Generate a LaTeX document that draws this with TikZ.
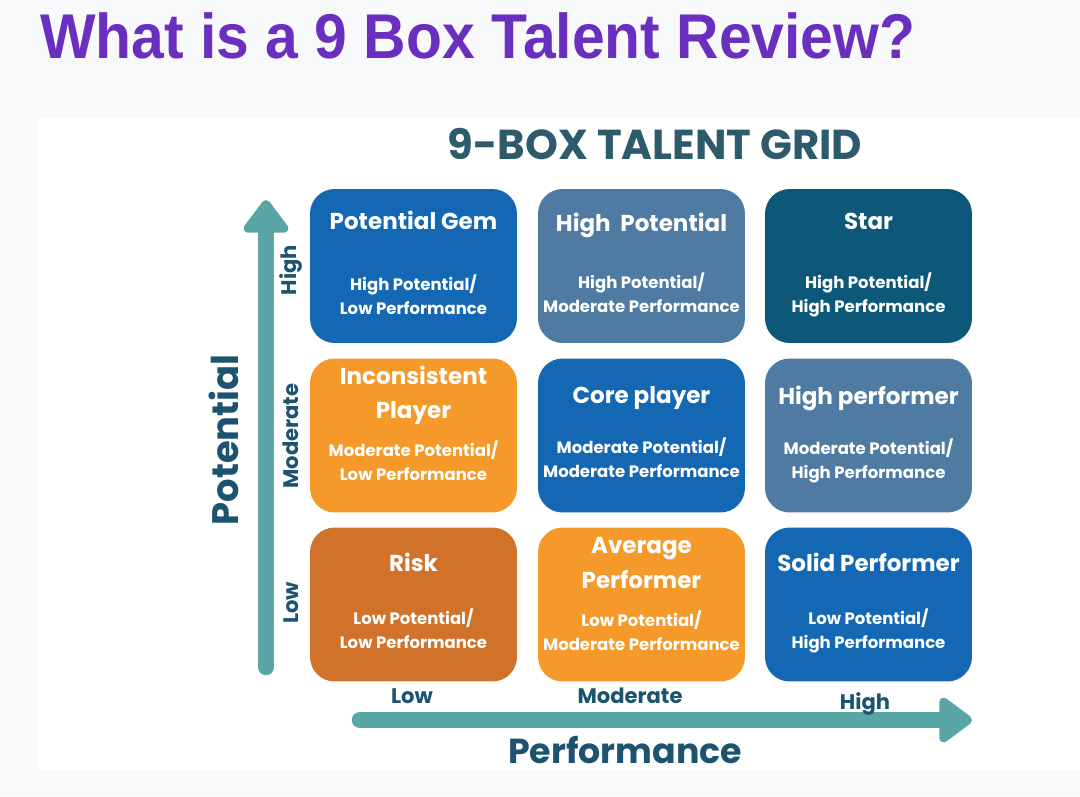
\documentclass[tikz,border=0pt]{standalone}
\usepackage{fontspec}
\setmainfont{Liberation Sans}
\newfontfamily\headfont[FakeStretch=0.93]{Liberation Sans}
\newfontfamily\popfont{Poppins}
\usetikzlibrary{arrows.meta,positioning,calc}
\definecolor{slidebg}{HTML}{F8F9FB}
\definecolor{titlepurple}{HTML}{6A2FBF}
\definecolor{gridink}{HTML}{2D5B6B}
\definecolor{axisteal}{HTML}{5AA5A6}
\definecolor{axisink}{HTML}{1C5470}
\definecolor{gemblue}{HTML}{1467B3}
\definecolor{slate}{HTML}{4F7AA2}
\definecolor{deepteal}{HTML}{0D5878}
\definecolor{amber}{HTML}{F59A2A}
\definecolor{rust}{HTML}{D1722B}
\newcommand{\boxttl}{\fontsize{13.1}{19}\selectfont}
\tikzset{
  talentbox/.style={rounded corners=14pt, minimum width=4.14cm, minimum height=3.08cm,
                    inner sep=2pt, align=center, text=white, text depth=4pt,
                    font=\popfont\bfseries\fontsize{9.4}{13.6}\selectfont},
  axisarr/.style={-{Triangle[width=1.02cm,length=0.72cm,round]}, line width=0.33cm,
                  color=axisteal, line cap=round},
  axislbl/.style={text=axisink, font=\popfont\bfseries\fontsize{12}{14}\selectfont},
  axisname/.style={text=axisink, font=\popfont\bfseries\fontsize{21}{24}\selectfont}}

\begin{document}
\begin{tikzpicture}[x=0.02cm, y=-0.02cm]
  \fill[slidebg] (0,0) rectangle (1080,796);
  \useasboundingbox (0,0) rectangle (1080,796);
  \fill[white] (38,118) rectangle (1080,770);
  % headings
  \node[anchor=base west, inner sep=0pt, text=titlepurple,
        font=\headfont\bfseries\fontsize{36}{40}\selectfont] (title) at (40,58) {What is a 9 Box Talent Review?};
  \node[anchor=base, inner sep=0pt, text=gridink,
        font=\popfont\bfseries\fontsize{23.8}{28}\selectfont] (gridtitle) at (655,159) {9-BOX TALENT GRID};
  % the nine boxes
  \node[talentbox, fill=gemblue] (gem) at (413.5,266)
    {\boxttl Potential Gem\\[21pt]High Potential/\\Low Performance};
  \node[talentbox, fill=slate] (highpot) at (641.5,266)
    {\boxttl High\ \ Potential\\[19pt]High Potential/\\Moderate Performance};
  \node[talentbox, fill=deepteal] (star) at (868.5,266)
    {\boxttl Star\\[20pt]High Potential/\\High Performance};
  \node[talentbox, fill=amber, text depth=14pt] (incons) at (413.5,435.5)
    {\boxttl Inconsistent\\[6pt]\boxttl Player\\[8pt]Moderate Potential/\\Low Performance};
  \node[talentbox, fill=gemblue] (core) at (641.5,435.5)
    {\boxttl Core player\\[15pt]Moderate Potential/\\Moderate Performance};
  \node[talentbox, fill=slate] (highperf) at (868.5,435.5)
    {\boxttl High performer\\[15pt]Moderate Potential/\\High Performance};
  \node[talentbox, fill=rust] (risk) at (413.5,604.5)
    {\boxttl Risk\\[16.5pt]Low Potential/\\Low Performance};
  \node[talentbox, fill=amber, text depth=12pt] (average) at (641.5,604.5)
    {\boxttl Average\\[5pt]\boxttl Performer\\[8pt]Low Potential/\\Moderate Performance};
  \node[talentbox, fill=gemblue] (solid) at (868.5,604.5)
    {\boxttl Solid Performer\\[16.5pt]Low Potential/\\High Performance};
  % axes
  \coordinate (vbase) at (266,667);
  \coordinate (vtip) at (266,200);
  \coordinate (hbase) at (360,720);
  \coordinate (htip) at (972,720);
  \draw[axisarr] (vbase) -- (vtip);
  \draw[axisarr] (hbase) -- (htip);
  \node[axislbl, rotate=90] (phigh) at (291,270) {High};
  \node[axislbl, rotate=90] (pmod) at (291,436) {Moderate};
  \node[axislbl, rotate=90] (plow) at (291,603) {Low};
  \node[axislbl, anchor=base] (flow) at (412,703) {Low};
  \node[axislbl, anchor=base] (fmod) at (630,703) {Moderate};
  \node[axislbl, anchor=base] (fhigh) at (865,709) {High};
  \node[axisname, rotate=90] (potential) at (224,440) {Potential};
  \node[axisname, anchor=base, font=\popfont\bfseries\fontsize{19.8}{24}\selectfont] (performance) at (625,763) {Performance};
\end{tikzpicture}
\end{document}
